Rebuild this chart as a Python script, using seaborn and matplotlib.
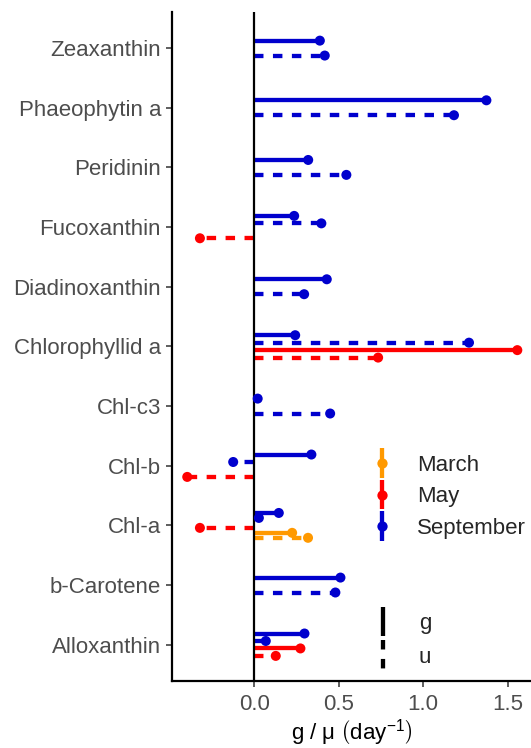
import numpy as np
import pandas as pd
import matplotlib
matplotlib.use("Agg")
import matplotlib.pyplot as plt
import seaborn as sns
from matplotlib.legend_handler import HandlerBase
from matplotlib.lines import Line2D

# ---------------- data ----------------
pigment_order = ["Alloxanthin", "b-Carotene", "Chl-a", "Chl-b", "Chl-c3",
                 "Chlorophyllid a", "Diadinoxanthin", "Fucoxanthin",
                 "Peridinin", "Phaeophytin a", "Zeaxanthin"]

# rows listed top-to-bottom within each pigment (NaN keeps an empty dodge slot)
pigment = ["Alloxanthin"] * 4 + ["b-Carotene"] * 2 + ["Chl-a"] * 6 + ["Chl-b"] * 4 + \
          ["Chl-c3"] * 2 + ["Chlorophyllid a"] * 4 + ["Diadinoxanthin"] * 2 + \
          ["Fucoxanthin"] * 4 + ["Peridinin"] * 2 + ["Phaeophytin a"] * 2 + ["Zeaxanthin"] * 2
month = ["September", "September", "May", "May",
         "September", "September",
         "September", "September", "May", "May", "March", "March",
         "September", "September", "May", "May",
         "September", "September",
         "September", "September", "May", "May",
         "September", "September",
         "September", "September", "May", "May",
         "September", "September",
         "September", "September",
         "September", "September"]
gtype = ["g", "u", "g", "u",
         "g", "u",
         "g", "u", "g", "u", "g", "u",
         "g", "u", "g", "u",
         "g", "u",
         "g", "u", "g", "u",
         "g", "u",
         "g", "u", "g", "u",
         "g", "u",
         "g", "u",
         "g", "u"]
value = [0.297, 0.068, 0.273, 0.127,
         0.510, 0.480,
         0.145, 0.027, np.nan, -0.322, 0.224, 0.318,
         0.338, -0.125, np.nan, -0.397,
         0.020, 0.449,
         0.242, 1.271, 1.557, 0.733,
         0.429, 0.295,
         0.236, 0.397, np.nan, -0.322,
         0.319, 0.545,
         1.374, 1.182,
         0.388, 0.417]

month_levels = ["March", "May", "September"]
type_levels = ["g", "u"]
palette = {"March": "#FF9900", "May": "#FF0000", "September": "#0000CD"}

# ---------------- dodge positions ----------------
df = pd.DataFrame({"pigment": pigment, "month": month, "type": gtype, "value": value})
df["k"] = df.groupby("pigment").cumcount()
df["n"] = df.groupby("pigment")["pigment"].transform("size")
df["idx"] = df["pigment"].map({p: i for i, p in enumerate(pigment_order)})
dodge_width = 0.5
df["y"] = df["idx"] + ((df["n"] - 1) / 2 - df["k"]) * dodge_width / df["n"]
df = df.dropna(subset=["value"]).reset_index(drop=True)
df["seg"] = np.arange(len(df))

seg = pd.concat([df.assign(x=0.0, o=0), df.assign(x=df["value"], o=1)]).sort_values(["seg", "o"])

# ---------------- style ----------------
sns.set_theme(style="ticks")
plt.rcParams["font.family"] = ["Liberation Sans", "DejaVu Sans"]
plt.rcParams["mathtext.fontset"] = "custom"
plt.rcParams["mathtext.rm"] = "Liberation Sans"
plt.rcParams["mathtext.it"] = "Liberation Sans:italic"
plt.rcParams["mathtext.default"] = "regular"

LW = 3.1
DASH = (2.2, 2.2)
FS = 16

fig = plt.figure(figsize=(5.31, 7.48), dpi=100)
ax = fig.add_axes([171.7 / 531, 1 - 680.5 / 748, (531 - 171.7) / 531, (680.5 - 12.3) / 748])

sns.lineplot(data=seg, x="x", y="y", hue="month", style="type", units="seg",
             estimator=None, sort=False, palette=palette,
             hue_order=month_levels, style_order=type_levels,
             dashes={"g": "", "u": DASH}, linewidth=LW, legend=False, ax=ax,
             solid_capstyle="butt", dash_capstyle="butt", zorder=2)
ax.axvline(0, color="black", lw=1.6, zorder=3)
sns.scatterplot(data=df, x="value", y="y", hue="month", palette=palette,
                hue_order=month_levels, s=52, linewidth=0, legend=False,
                ax=ax, zorder=4)

ax.set_xlim(-0.489, 1.638)
ax.set_ylim(-0.6, 10.6)
ax.set_yticks(range(len(pigment_order)))
ax.set_yticklabels(pigment_order)
ax.set_xticks([0.0, 0.5, 1.0, 1.5])
ax.set_xticklabels(["0.0", "0.5", "1.0", "1.5"])
ax.set_ylabel("")
ax.set_xlabel(r"g / μ $\left(\mathregular{day^{-1}}\right)$", fontsize=FS,
              color="black", labelpad=1.5)

for s in ["top", "right"]:
    ax.spines[s].set_visible(False)
for s in ["left", "bottom"]:
    ax.spines[s].set_linewidth(1.6)
    ax.spines[s].set_color("black")
ax.tick_params(axis="both", length=4.2, width=1.1, color="#333333",
               labelcolor="#4D4D4D", labelsize=FS)
ax.tick_params(axis="y", pad=3.5)
ax.tick_params(axis="x", pad=5.5)


# ---------------- legends with vertical keys ----------------
class VKey(HandlerBase):
    def create_artists(self, legend, orig_handle, xdescent, ydescent,
                       width, height, fontsize, trans):
        cx = width / 2 - xdescent
        ext = 0.17 * height
        y0 = -ydescent - ext
        y1 = height - ydescent + ext
        ln = Line2D([cx, cx], [y1, y0], color=orig_handle.get_color(),
                    lw=LW, solid_capstyle="butt", dash_capstyle="butt")
        ln.set_linestyle(orig_handle._vkey_ls)
        ln.set_transform(trans)
        arts = [ln]
        if orig_handle.get_marker() not in (None, "None", ""):
            pt = Line2D([cx], [(y0 + y1) / 2], marker="o", markersize=7.4,
                        color=orig_handle.get_color(), markeredgewidth=0,
                        linestyle="None")
            pt.set_transform(trans)
            arts.append(pt)
        return arts


def make_handle(color, ls, marker):
    h = Line2D([], [], color=color, marker=marker)
    h._vkey_ls = ls
    return h


month_handles = [make_handle(palette[m], "-", "o") for m in month_levels]
type_handles = [make_handle("black", "-", "None"),
                make_handle("black", (0, DASH), "None")]

common = dict(loc="center left", frameon=False, fontsize=FS, handlelength=1.0,
              handleheight=1.14, handletextpad=1.09,
              borderpad=0, borderaxespad=0, handler_map={Line2D: VKey()})
leg1 = ax.legend(month_handles, month_levels, bbox_to_anchor=(0.554, 0.277),
                 labelspacing=0.36, **common)
ax.add_artist(leg1)
leg2 = ax.legend(type_handles, type_levels, bbox_to_anchor=(0.558, 0.062),
                 labelspacing=0.45, **common)

fig.savefig("out.png", dpi=100)
